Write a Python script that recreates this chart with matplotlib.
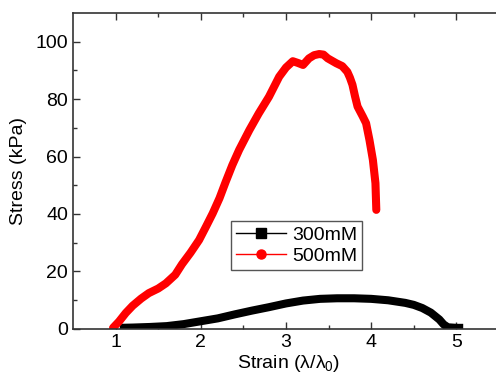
import matplotlib
matplotlib.use("Agg")
import matplotlib.pyplot as plt
from matplotlib.lines import Line2D

plt.rcParams['font.family'] = ['Liberation Sans', 'DejaVu Sans']
plt.rcParams['mathtext.fontset'] = 'custom'
plt.rcParams['mathtext.rm'] = 'Liberation Sans'
plt.rcParams['mathtext.it'] = 'Liberation Sans'

# 300mM
strain_300 = [1.05, 1.2, 1.4, 1.6, 1.8, 2.0, 2.2, 2.4, 2.6, 2.8, 3.0, 3.2, 3.4, 3.6,
              3.8, 4.0, 4.2, 4.4, 4.5, 4.6, 4.7, 4.8, 4.85, 4.9, 5.0, 5.08]
stress_300 = [0.3, 0.4, 0.6, 0.9, 1.6, 2.6, 3.6, 5.0, 6.3, 7.5, 8.8, 9.8, 10.4, 10.6,
              10.6, 10.4, 9.9, 9.0, 8.3, 7.2, 5.6, 3.2, 1.5, 0.5, 0.3, 0.3]

# 500mM
strain_500 = [0.97, 1.04, 1.12, 1.2, 1.3, 1.39, 1.5, 1.59, 1.7, 1.78, 1.88, 1.98, 2.06,
              2.14, 2.22, 2.29, 2.37, 2.45, 2.57, 2.68, 2.8, 2.92, 3.0, 3.08, 3.14, 3.2,
              3.27, 3.33, 3.39, 3.44, 3.49, 3.59, 3.66, 3.72, 3.75, 3.78, 3.81, 3.84,
              3.9, 3.94, 3.98, 4.02, 4.05, 4.06]
stress_500 = [0.3, 2.5, 5.5, 8.0, 10.5, 12.4, 14.0, 15.8, 18.8, 22.5, 26.5, 30.9, 35.5,
              40.2, 45.5, 51.0, 57.0, 62.3, 69.2, 75.0, 80.8, 87.8, 91.0, 93.2, 92.6, 91.9,
              94.2, 95.3, 95.7, 95.5, 94.2, 92.5, 91.5, 89.5, 87.5, 85.0, 81.0, 77.4,
              74.0, 71.6, 65.7, 58.8, 50.7, 41.4]

labels = ['300mM', '500mM']

fig = plt.figure(figsize=(4.96, 3.85), dpi=100)
ax = fig.add_axes([73/496, (385-328.7)/385, 432/496, 315.7/385])

ax.plot(strain_300, stress_300, color='black', lw=5.8, solid_capstyle='butt', solid_joinstyle='round')
ax.plot(strain_500, stress_500, color='#ff0000', lw=5.8, solid_capstyle='round', solid_joinstyle='round')

ax.set_xlim(0.5, 5.5 + 6/85)
ax.set_ylim(0, 110)
ax.set_xticks([1, 2, 3, 4, 5])
ax.set_xticks([1.5, 2.5, 3.5, 4.5], minor=True)
ax.set_yticks([0, 20, 40, 60, 80, 100])
ax.set_yticks([10, 30, 50, 70, 90], minor=True)
ax.tick_params(which='both', direction='in', top=True, right=True, labelsize=14,
               color='#333333', width=1)
ax.tick_params(which='major', length=5)
ax.tick_params(which='minor', length=3)
for s in ax.spines.values():
    s.set_color('#333333')
    s.set_linewidth(1.2)

ax.set_xlabel(r'Strain ($\lambda/\lambda_0$)', fontsize=14, labelpad=2)
ax.set_ylabel('Stress (kPa)', fontsize=14, labelpad=6)

handles = [Line2D([], [], color='black', lw=1, marker='s', markersize=6.5),
           Line2D([], [], color='#ff0000', lw=1, marker='o', markersize=6.5)]
leg = ax.legend(handles, labels, loc='lower left', bbox_to_anchor=(158/432, 0.186),
                borderaxespad=0, fontsize=14, fancybox=False, edgecolor='#555555',
                handlelength=2.6, handletextpad=0.3, borderpad=0.25, labelspacing=0.2,
                framealpha=1)
leg.get_frame().set_linewidth(1.0)

fig.savefig('out.png', dpi=100)
